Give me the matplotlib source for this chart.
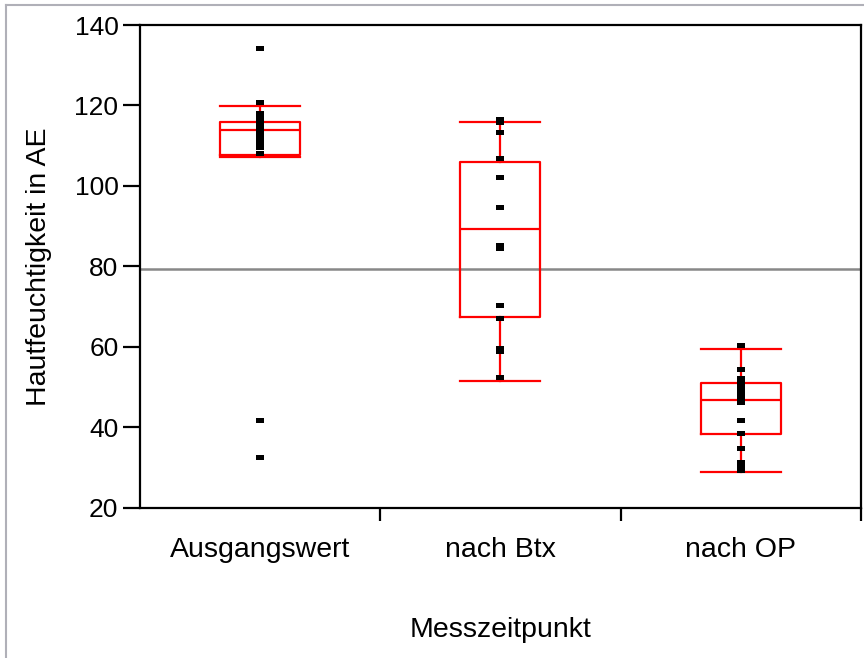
import numpy as np
import matplotlib
matplotlib.use("Agg")
import matplotlib.pyplot as plt
from matplotlib.lines import Line2D
from matplotlib.ticker import FixedLocator

plt.rcParams['font.family'] = ['Liberation Sans', 'DejaVu Sans']

# Messzeitpunkte
categories = ['Ausgangswert', 'nach Btx', 'nach OP']

# Einzelwerte Hautfeuchtigkeit (AE)
werte_ausgang = [134.2, 120.8, 118.2, 117.2, 115.9, 115.0, 114.1, 113.0,
                 112.2, 111.4, 110.6, 109.8, 108.2, 41.8, 32.6]
werte_btx = [116.6, 115.9, 113.5, 106.9, 102.3, 94.9, 85.4, 84.5,
             70.4, 67.1, 59.8, 59.1, 52.6]
werte_op = [60.5, 54.6, 52.2, 51.2, 50.3, 49.3, 48.3, 47.3,
            46.4, 41.9, 38.6, 34.8, 31.4, 30.2, 29.4]

# Quantile-Boxen (unterer Whisker, Q1, Median, Q3, oberer Whisker)
whisker_lo = [107.3, 51.6, 29.0]
quartil_1 = [107.6, 67.5, 38.3]
median = [113.9, 89.3, 46.8]
quartil_3 = [115.8, 105.9, 51.0]
whisker_hi = [119.9, 115.9, 59.5]

gesamtmittel = 79.4

fig = plt.figure(figsize=(8.64, 6.58), dpi=100)
ax = fig.add_axes([0.162, 0.228, 0.8345, 0.734])

pos = np.arange(len(categories))

# Gesamtmittelwert
ax.axhline(gesamtmittel, color='#888888', lw=1.8, zorder=1)

stats = []
for i in range(len(categories)):
    stats.append(dict(whislo=whisker_lo[i], q1=quartil_1[i], med=median[i],
                      q3=quartil_3[i], whishi=whisker_hi[i], fliers=[]))
red = dict(color='#ff0000', lw=1.6)
ax.bxp(stats, positions=pos, widths=0.333, capwidths=0.333, showfliers=False,
       boxprops=red, medianprops=red, whiskerprops=red, capprops=red,
       manage_ticks=False, zorder=2)

# Rechteckige Punktmarker
rect = [(-1, -0.6), (1, -0.6), (1, 0.6), (-1, 0.6), (-1, -0.6)]
for i, werte in enumerate([werte_ausgang, werte_btx, werte_op]):
    ax.plot(np.full(len(werte), pos[i]), werte, linestyle='none', marker=rect,
            markersize=6, color='black', markeredgewidth=0, zorder=3)

ax.set_xlim(-0.5, 2.5)
ax.set_ylim(20, 140)
ax.set_yticks(np.arange(20, 141, 20))
ax.set_xticks(pos)
ax.set_xticklabels(categories)
ax.xaxis.set_minor_locator(FixedLocator([0.5, 1.5, 2.5]))
ax.tick_params(axis='x', which='major', length=0, pad=21, labelsize=20.5)
ax.tick_params(axis='x', which='minor', length=9, width=1.6, direction='out')
ax.tick_params(axis='y', length=12.5, width=1.6, direction='out', pad=3, labelsize=19)

for sp in ax.spines.values():
    sp.set_linewidth(1.6)

ax.set_ylabel('Hautfeuchtigkeit in AE', fontsize=20.5, labelpad=16)
ax.set_xlabel('Messzeitpunkt', fontsize=20.5, labelpad=39)

# Rahmen links und oben
fig.add_artist(Line2D([6 / 864, 6 / 864], [0, 1 - 5 / 658], color='#b0b0b8', lw=1.5,
                      transform=fig.transFigure))
fig.add_artist(Line2D([6 / 864, 1], [1 - 5 / 658, 1 - 5 / 658], color='#b0b0b8', lw=1.5,
                      transform=fig.transFigure))

fig.savefig('out.png', dpi=100)
